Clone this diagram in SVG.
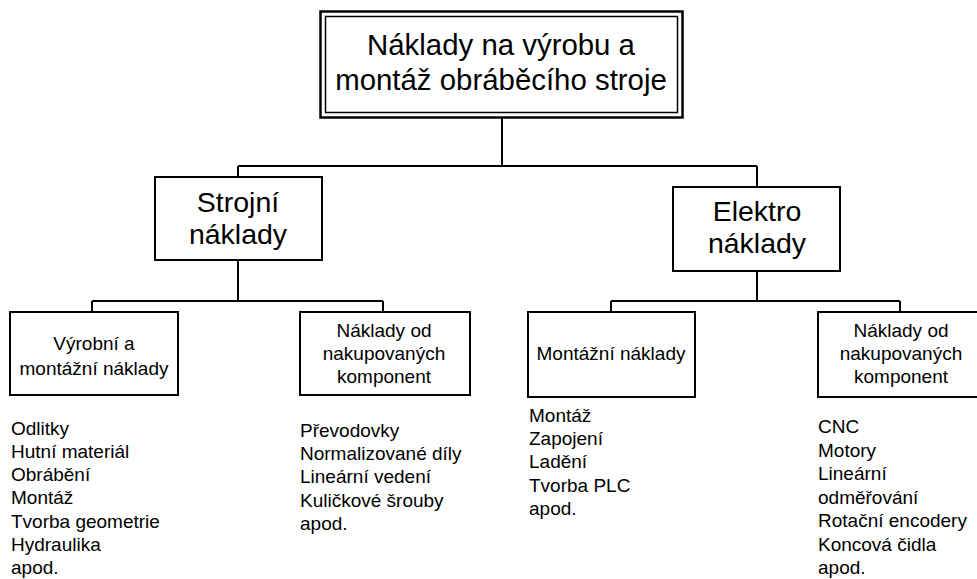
<svg xmlns="http://www.w3.org/2000/svg" width="977" height="579" viewBox="0 0 977 579">
  <style>
    .box { fill: #fff; stroke: #000; stroke-width: 2; }
    .wire { fill: none; stroke: #000; stroke-width: 2; }
    text { font-family: "Liberation Sans", Arial, sans-serif; fill: #000; }
    .t30 { font-size: 29.4px; text-anchor: middle; }
    .t28 { font-size: 28.5px; text-anchor: middle; }
    .t19 { font-size: 19px; text-anchor: middle; }
    .list { font-size: 19px; }
  </style>
  <rect width="977" height="579" fill="#fff"/>

  <g id="connectors">
    <path class="wire" d="M502 117 V166 M238 166 H757 M238 166 V177 M757 166 V187"/>
    <path class="wire" d="M238 260 V301 M92 301 H383 M92 301 V312 M383 301 V312"/>
    <path class="wire" d="M757 271 V301 M611 301 H900 M611 301 V312 M900 301 V312"/>
  </g>

  <g id="root">
    <rect x="320.5" y="11.5" width="362" height="106" fill="#fff" stroke="#000" stroke-width="2.5"/>
    <rect x="325.5" y="16.5" width="352" height="96" fill="none" stroke="#000" stroke-width="1.5"/>
    <text class="t30" x="501" y="55">Náklady na výrobu a</text>
    <text class="t30" x="501" y="90">montáž obráběcího stroje</text>
  </g>

  <g id="strojni">
    <rect class="box" x="155" y="177" width="167" height="83"/>
    <text class="t28" x="238" y="212">Strojní</text>
    <text class="t28" x="238" y="244">náklady</text>
  </g>

  <g id="elektro">
    <rect class="box" x="673" y="187" width="167" height="84"/>
    <text class="t28" x="757" y="221">Elektro</text>
    <text class="t28" x="757" y="253">náklady</text>
  </g>

  <g id="vyrobni">
    <rect class="box" x="10" y="312" width="168" height="83"/>
    <text class="t19" x="94" y="350">Výrobní a</text>
    <text class="t19" x="94" y="375">montážní náklady</text>
  </g>

  <g id="strojni-komponenty">
    <rect class="box" x="300" y="312" width="170" height="83"/>
    <text class="t19" x="384" y="337">Náklady od</text>
    <text class="t19" x="384" y="360">nakupovaných</text>
    <text class="t19" x="384" y="383">komponent</text>
  </g>

  <g id="montazni">
    <rect class="box" x="528" y="312" width="167" height="85"/>
    <text class="t19" x="611" y="360">Montážní náklady</text>
  </g>

  <g id="elektro-komponenty">
    <rect class="box" x="818" y="312" width="168" height="85"/>
    <text class="t19" x="901" y="337">Náklady od</text>
    <text class="t19" x="901" y="360">nakupovaných</text>
    <text class="t19" x="901" y="383">komponent</text>
  </g>

  <g id="list-vyrobni">
    <text class="list" x="11" y="435">Odlitky</text>
    <text class="list" x="11" y="458">Hutní materiál</text>
    <text class="list" x="11" y="481">Obrábění</text>
    <text class="list" x="11" y="504">Montáž</text>
    <text class="list" x="11" y="528">Tvorba geometrie</text>
    <text class="list" x="11" y="551">Hydraulika</text>
    <text class="list" x="11" y="574">apod.</text>
  </g>

  <g id="list-strojni-komponenty">
    <text class="list" x="300" y="437">Převodovky</text>
    <text class="list" x="300" y="460">Normalizované díly</text>
    <text class="list" x="300" y="483">Lineární vedení</text>
    <text class="list" x="300" y="507">Kuličkové šrouby</text>
    <text class="list" x="300" y="530">apod.</text>
  </g>

  <g id="list-montazni">
    <text class="list" x="529" y="422">Montáž</text>
    <text class="list" x="529" y="445">Zapojení</text>
    <text class="list" x="529" y="468">Ladění</text>
    <text class="list" x="529" y="492">Tvorba PLC</text>
    <text class="list" x="529" y="515">apod.</text>
  </g>

  <g id="list-elektro-komponenty">
    <text class="list" x="818" y="433">CNC</text>
    <text class="list" x="818" y="457">Motory</text>
    <text class="list" x="818" y="480">Lineární</text>
    <text class="list" x="818" y="504">odměřování</text>
    <text class="list" x="818" y="527">Rotační encodery</text>
    <text class="list" x="818" y="551">Koncová čidla</text>
    <text class="list" x="818" y="574">apod.</text>
  </g>
</svg>
